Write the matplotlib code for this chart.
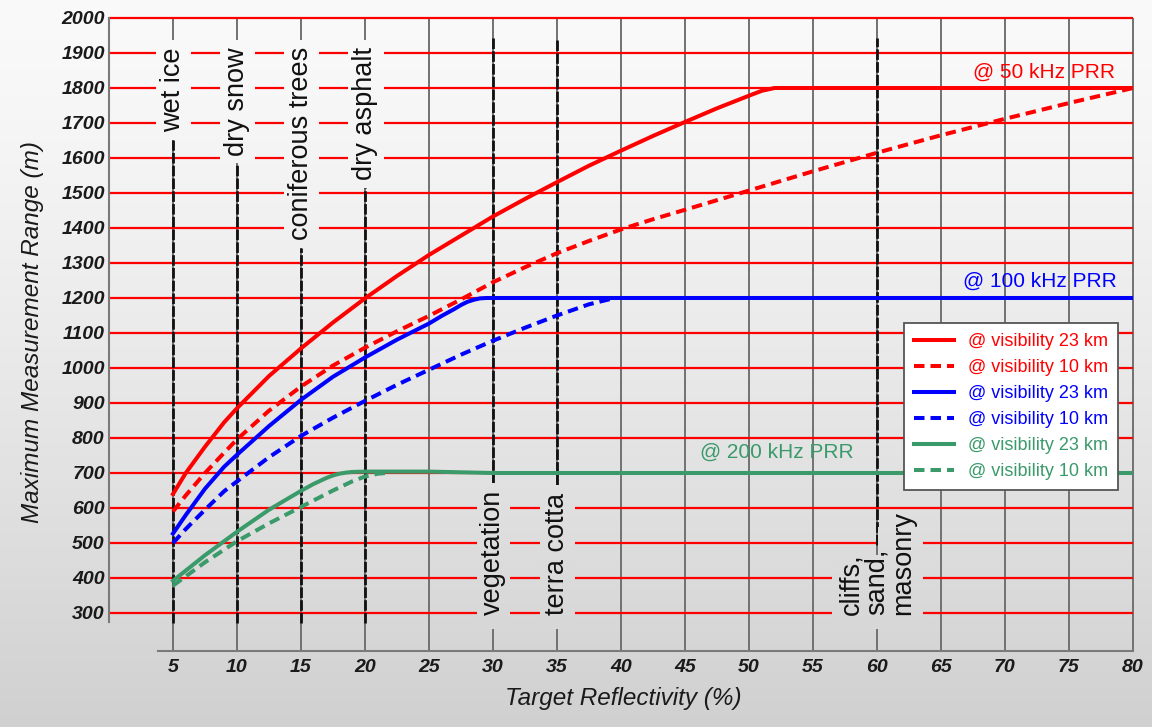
import numpy as np
import matplotlib
matplotlib.use("Agg")
import matplotlib.pyplot as plt
from matplotlib.patches import Rectangle

plt.rcParams['font.family'] = ['Liberation Sans', 'DejaVu Sans']

# ---------------- data ----------------
reflectivity_ticks = [5, 10, 15, 20, 25, 30, 35, 40, 45, 50, 55, 60, 65, 70, 75, 80]
range_ticks = [300, 400, 500, 600, 700, 800, 900, 1000, 1100, 1200, 1300, 1400,
               1500, 1600, 1700, 1800, 1900, 2000]

# 50 kHz PRR
r23_x = [5, 6, 7.5, 9, 10, 12.5, 15, 17.5, 20, 22.5, 25, 27.5, 30, 32.5, 35, 37.5, 40,
         42.5, 45, 47.5, 50, 51, 52, 80]
r23_y = [640, 700, 775, 845, 885, 977, 1056, 1130, 1199, 1263, 1323, 1378, 1433, 1483,
         1531, 1578, 1621, 1663, 1703, 1742, 1778, 1792, 1800, 1800]
r10_x = [5, 6, 7.5, 9, 10, 12.5, 15, 17.5, 20, 22.5, 25, 27.5, 30, 32.5, 35, 37.5, 40,
         42.5, 45, 50, 55, 60, 65, 70, 75, 80]
r10_y = [590, 636, 700, 758, 796, 878, 947, 1007, 1058, 1105, 1149, 1196, 1245, 1288,
         1328, 1363, 1396, 1425, 1452, 1507, 1562, 1615, 1665, 1712, 1757, 1800]
# 100 kHz PRR
b23_x = [5, 6, 7.5, 9, 10, 12.5, 15, 17.5, 20, 22.5, 25, 26, 27, 27.5, 28, 28.5, 29,
         29.5, 80]
b23_y = [527, 580, 655, 718, 752, 834, 909, 975, 1030, 1081, 1127, 1149, 1169, 1180,
         1189, 1195, 1199, 1200, 1200]
b10_x = [5, 6, 7.5, 9, 10, 12.5, 15, 17.5, 20, 22.5, 25, 27.5, 30, 32.5, 35, 37.5, 39.5]
b10_y = [500, 540, 595, 648, 676, 745, 806, 858, 906, 952, 995, 1038, 1078, 1115, 1150,
         1182, 1200]
# 200 kHz PRR
g23_x = [5, 7.5, 10, 12.5, 15, 16, 17, 17.5, 18, 18.5, 19, 20, 25, 30, 80]
g23_y = [392, 465, 532, 595, 649, 669, 686, 693, 698, 701, 703, 704, 704, 700, 700]
g10_x = [5, 7.5, 10, 12.5, 15, 17.5, 19, 20, 21, 22]
g10_y = [378, 445, 505, 556, 603, 650, 676, 690, 698, 701]

series_labels = ['@ visibility 23 km', '@ visibility 10 km'] * 3
prr_labels = ['@ 50 kHz PRR', '@ 100 kHz PRR', '@ 200 kHz PRR']

# material markers
top_materials = ['wet ice', 'dry snow', 'coniferous trees', 'dry asphalt']
top_material_x = [5, 10, 15, 20]
top_line_from = [272, 272, 272, 272]
top_line_to = [1651, 1586, 1343, 1514]

bottom_materials = ['vegetation', 'terra cotta', 'cliffs,\nsand,\nmasonry']
bottom_material_x = [30, 35, 60]
bottom_line_from = [671, 666, 494]
bottom_line_to = [1943, 1943, 1943]

# ---------------- styling ----------------
RED, BLUE, GREEN = '#ff0000', '#0000ff', '#3a9a6a'
W, H = 1152, 727
fig = plt.figure(figsize=(W / 100, H / 100), dpi=100)


def shade(py):
    return (250 - 42 * (np.asarray(py) / H) ** 1.3) / 255.0


rows = shade(np.arange(H) + 0.5)
bg = np.dstack([rows[:, None]] * 3)
bgax = fig.add_axes([0, 0, 1, 1], zorder=-10)
bgax.imshow(bg, aspect='auto', extent=[0, 1, 0, 1], interpolation='bilinear')
bgax.axis('off')

PX_L, PX_R, PX_T, PX_B = 109, 1133, 18, 651
YMIN, YMAX = 191.4, 2000
ax = fig.add_axes([PX_L / W, 1 - PX_B / H, (PX_R - PX_L) / W, (PX_B - PX_T) / H])
ax.patch.set_alpha(0)

# grid
ax.vlines(reflectivity_ticks, YMIN, YMAX, colors='#717171', lw=1.4, zorder=1, clip_on=False)
ax.hlines(range_ticks, 0, 80, colors=RED, lw=1.6, zorder=1.5, clip_on=False)

# material dashed lines
for x, a, b in zip(top_material_x + bottom_material_x,
                   top_line_from + bottom_line_from,
                   top_line_to + bottom_line_to):
    ax.plot([x, x], [a, b], color='#111111', lw=2.0, dashes=(3.8, 0.8), zorder=2,
            solid_capstyle='butt', dash_capstyle='butt')

# masks behind the material labels (show background gradient)
mask_rows = shade(np.linspace(PX_T, PX_B, PX_B - PX_T + 1))
mask_img = np.dstack([mask_rows[:, None]] * 3)
masks = [(3.65, 6.35, 1651, 1937), (8.65, 11.35, 1586, 1937),
         (13.65, 16.35, 1343, 1937), (18.65, 21.4, 1514, 1937),
         (28.75, 31.3, 254, 671), (33.65, 36.35, 254, 666),
         (56.5, 60.1, 254, 466), (60.1, 63.55, 254, 545)]
for x0, x1, y0, y1 in masks:
    im = ax.imshow(mask_img, extent=(0, 80, YMIN, YMAX), aspect='auto', zorder=3,
                   interpolation='bilinear', origin='upper')
    r = Rectangle((x0, y0), x1 - x0, y1 - y0, transform=ax.transData)
    im.set_clip_path(r)

# material labels
for lab, x in zip(top_materials, top_material_x):
    ax.text(x, 1917, lab, rotation=90, ha='center', va='top', fontsize=19.5,
            color='#111111', zorder=4)
for lab, x in zip(bottom_materials, bottom_material_x):
    ax.text(x, 294, lab, rotation=90, ha='center', va='bottom', fontsize=19.5,
            color='#111111', zorder=4, multialignment='left', linespacing=1.0)

# curves
LW = 2.9
DASH = (2.6, 1.5)
h1, = ax.plot(r23_x, r23_y, color=RED, lw=LW, zorder=5, solid_joinstyle='round')
h2, = ax.plot(r10_x, r10_y, color=RED, lw=LW, dashes=DASH, zorder=5)
h3, = ax.plot(b23_x, b23_y, color=BLUE, lw=LW, zorder=5, solid_joinstyle='round')
h4, = ax.plot(b10_x, b10_y, color=BLUE, lw=LW, dashes=DASH, zorder=5)
h5, = ax.plot(g23_x, g23_y, color=GREEN, lw=LW, zorder=5, solid_joinstyle='round')
h6, = ax.plot(g10_x, g10_y, color=GREEN, lw=LW, dashes=DASH, zorder=5)

# PRR labels
ax.text(78.6, 1846, prr_labels[0], color=RED, ha='right', va='center', fontsize=15, zorder=6)
ax.text(78.75, 1249, prr_labels[1], color=BLUE, ha='right', va='center', fontsize=15, zorder=6)
ax.text(52.2, 760, prr_labels[2], color=GREEN, ha='center', va='center', fontsize=15, zorder=6)

# axes
ax.set_xlim(0, 80)
ax.set_ylim(YMIN, YMAX)
for s in ['top', 'right']:
    ax.spines[s].set_visible(False)
for s in ['left', 'bottom']:
    ax.spines[s].set_color('#7a7a7a')
    ax.spines[s].set_linewidth(1.5)
ax.spines['left'].set_bounds(274, 2000)
ax.spines['bottom'].set_bounds(3.8, 80)

ax.set_xticks(reflectivity_ticks)
ax.set_xticklabels([str(t) for t in reflectivity_ticks])
ax.set_yticks(range_ticks)
ax.set_yticklabels([str(t) for t in range_ticks])
ax.tick_params(axis='both', length=0, labelsize=14, labelcolor='#1a1a1a')
ax.tick_params(axis='x', pad=6)
ax.tick_params(axis='y', pad=3)
for t in ax.get_xticklabels() + ax.get_yticklabels():
    t.set_fontweight('bold')
    t.set_fontstyle('italic')

ax.set_xlabel('Target Reflectivity (%)', fontsize=17.5, style='italic', color='#1a1a1a',
              va='center')
ax.xaxis.set_label_coords((623 - PX_L) / (PX_R - PX_L), (PX_B - 698) / (PX_B - PX_T))
ax.set_ylabel('Maximum Measurement Range (m)', fontsize=17.5, style='italic',
              color='#1a1a1a', va='center')
ax.yaxis.set_label_coords((33 - PX_L) / (PX_R - PX_L), (PX_B - 332) / (PX_B - PX_T))

leg = ax.legend([h1, h2, h3, h4, h5, h6], series_labels, loc='upper right',
                bbox_to_anchor=(1118 / W, 1 - 323 / H), bbox_transform=fig.transFigure,
                frameon=True, fancybox=False, edgecolor='#555555', framealpha=1,
                facecolor='white', fontsize=13, labelcolor='linecolor',
                handlelength=2.2, labelspacing=0.5, borderpad=0.55,
                handletextpad=0.8, borderaxespad=0)
leg.get_frame().set_linewidth(1.3)
leg.set_zorder(10)

fig.savefig('out.png', dpi=100)
